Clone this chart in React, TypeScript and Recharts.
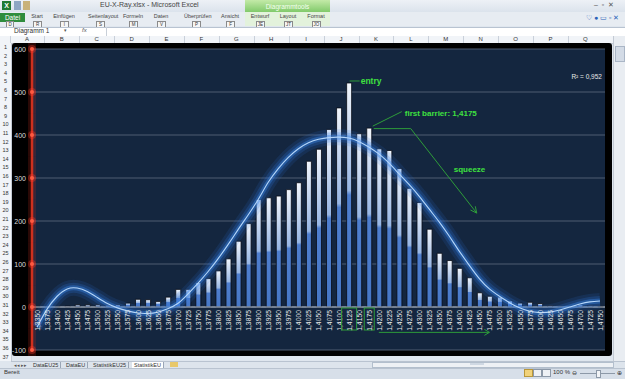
import React from 'react';
import {
  ComposedChart,
  Bar,
  Line,
  XAxis,
  YAxis,
  CartesianGrid,
  ReferenceDot,
  ReferenceLine,
  LabelList,
} from 'recharts';

// ---------------- DATA ----------------
const categories = [
  '1,3350', '1,3375', '1,3400', '1,3425', '1,3450', '1,3475', '1,3500', '1,3525', '1,3550', '1,3575',
  '1,3600', '1,3625', '1,3650', '1,3675', '1,3700', '1,3725', '1,3750', '1,3775', '1,3800', '1,3825',
  '1,3850', '1,3875', '1,3900', '1,3925', '1,3950', '1,3975', '1,4000', '1,4025', '1,4050', '1,4075',
  '1,4100', '1,4125', '1,4150', '1,4175', '1,4200', '1,4225', '1,4250', '1,4275', '1,4300', '1,4325',
  '1,4350', '1,4375', '1,4400', '1,4425', '1,4450', '1,4475', '1,4500', '1,4525', '1,4550', '1,4575',
  '1,4600', '1,4625', '1,4650', '1,4675', '1,4700', '1,4725', '1,4750',
];

const counts = [
  1, 1, 1, 2, 5, 5, 5, 4, 5, 9,
  18, 17, 13, 23, 41, 41, 57, 66, 84, 112,
  153, 194, 250, 254, 258, 273, 289, 339, 367, 413,
  463, 521, 403, 416, 368, 364, 322, 276, 243, 181,
  125, 108, 90, 68, 33, 25, 23, 14, 9, 11,
  8, 3, 1, 1, 5, 3, 1,
];

const trend = [
  -47, -5, 25, 42, 44, 36, 22, 8, -2, -9,
  -14, -15, -12, -4, 8, 30, 55, 82, 112, 145,
  180, 214, 250, 290, 322, 348, 368, 382, 390, 394,
  395, 393, 385, 372, 356, 335, 310, 285, 258, 228,
  198, 165, 130, 97, 66, 42, 25, 10, -2, -10,
  -13, -12, -7, 0, 7, 12, 14,
];

const yTicks = [-100, 0, 100, 200, 300, 400, 500, 600];
const Y_DOMAIN: [number, number] = [-100, 600];

const entryCategory = '1,4125';
const barrierCategory = '1,4175';
const squeezeStart = '1,4200';
const squeezeEnd = '1,4475';
const squeezeLevel = -59;
const rSquaredText = 'R² = 0,952';
const rSquaredLevel = 535;

const data = categories.map((c, i) => ({ cat: c, count: counts[i], trend: trend[i] }));

// ---------------- LAYOUT ----------------
const CHART_W = 600;
const CHART_H = 313;
const MARGIN = { top: 6, right: 7, bottom: 6, left: 0 };
const PLOT_H = CHART_H - MARGIN.top - MARGIN.bottom;
const TICK_STEP_PX = PLOT_H / ((Y_DOMAIN[1] - Y_DOMAIN[0]) / 100);

const GREEN_TEXT = '#3fe03f';
const GREEN_LINE = '#2e9c3a';
const FONT = '"Liberation Sans", Arial, sans-serif';

const YTick = (props: any) => {
  const { x, y, payload } = props;
  const ax = x + 5;
  return (
    <g>
      <rect x={ax - 4} y={y - TICK_STEP_PX / 2} width={8} height={TICK_STEP_PX} fill="#c0281a" opacity={0.22} />
      <circle cx={ax} cy={y} r={4} fill="#ff3a2a" opacity={0.35} />
      <circle cx={ax} cy={y} r={2} fill="#ff5a40" />
      <text x={x - 1} y={y} textAnchor="end" dominantBaseline="central" fontSize={7} fill="#dcdcdc" fontFamily={FONT}>
        {payload.value}
      </text>
    </g>
  );
};

const XLabel = (props: any) => {
  const vb = props.viewBox || props;
  const bx = vb.x ?? props.x;
  const bw = vb.width ?? props.width;
  const by = vb.y ?? props.y;
  const bh = vb.height ?? props.height;
  const cx = bx + bw / 2;
  const base = by + bh;
  const top = base + 3;
  const value = props.value;
  let box = null;
  if (value === entryCategory) {
    box = <rect x={cx - 7.5} y={base + 1} width={15} height={22} fill="none" stroke={GREEN_LINE} strokeWidth={1} />;
  } else if (value === barrierCategory) {
    box = <rect x={cx - 5} y={base + 1} width={10} height={22} fill="none" stroke={GREEN_LINE} strokeWidth={1} />;
  }
  return (
    <g>
      {box}
      <text
        x={cx}
        y={top}
        transform={`rotate(-90 ${cx} ${top})`}
        textAnchor="end"
        dominantBaseline="central"
        fontSize={6.8}
        fill="#e8e8e8"
        fontFamily={FONT}
      >
        {value}
      </text>
    </g>
  );
};

const EntryShape = (p: any) => {
  const { cx, cy } = p;
  return (
    <g>
      <line x1={cx + 1} y1={cy - 2} x2={cx + 11} y2={cy - 2} stroke={GREEN_LINE} strokeWidth={1} />
      <text x={cx + 12} y={cy + 1.5} fontSize={8.5} fontWeight="bold" fill={GREEN_TEXT} fontFamily={FONT}>
        entry
      </text>
    </g>
  );
};

const BarrierShape = (p: any) => {
  const { cx, cy } = p;
  const ex = cx + 108;
  const ey = cy + 85;
  const dx = 66;
  const dy = 84.5;
  const len = Math.sqrt(dx * dx + dy * dy);
  const ux = dx / len;
  const uy = dy / len;
  const ah = 7;
  const ang = 0.45;
  const a1x = ex - ah * (ux * Math.cos(ang) - uy * Math.sin(ang));
  const a1y = ey - ah * (uy * Math.cos(ang) + ux * Math.sin(ang));
  const a2x = ex - ah * (ux * Math.cos(-ang) - uy * Math.sin(-ang));
  const a2y = ey - ah * (uy * Math.cos(-ang) + ux * Math.sin(-ang));
  return (
    <g>
      <line x1={cx + 4} y1={cy - 2} x2={cx + 33} y2={cy - 16.5} stroke={GREEN_LINE} strokeWidth={1} />
      <text x={cx + 36} y={cy - 12.5} fontSize={8} fontWeight="bold" fill={GREEN_TEXT} fontFamily={FONT}>
        first barrier: 1,4175
      </text>
      <polyline
        points={`${cx + 5},${cy + 0.5} ${cx + 42},${cy + 0.5} ${ex},${ey}`}
        fill="none"
        stroke={GREEN_LINE}
        strokeWidth={1}
      />
      <polyline points={`${a1x},${a1y} ${ex},${ey} ${a2x},${a2y}`} fill="none" stroke={GREEN_LINE} strokeWidth={1} />
      <text x={cx + 85} y={cy + 44} fontSize={8} fontWeight="bold" fill={GREEN_TEXT} fontFamily={FONT}>
        squeeze
      </text>
    </g>
  );
};

const ArrowHead = (p: any) => {
  const { cx, cy } = p;
  return (
    <polyline
      points={`${cx - 5},${cy - 3} ${cx},${cy} ${cx - 5},${cy + 3}`}
      fill="none"
      stroke={GREEN_LINE}
      strokeWidth={1}
    />
  );
};

const RSquared = (p: any) => {
  const { cx, cy } = p;
  return (
    <text x={cx + 2} y={cy} textAnchor="end" dominantBaseline="central" fontSize={6.5} fill="#e8e8e8" fontFamily={FONT}>
      {rSquaredText}
    </text>
  );
};

// ---------------- EXCEL CHROME ----------------
const ribbonTabs: [string, number][] = [
  ['Start', 37], ['Einfügen', 64], ['Seitenlayout', 100], ['Formeln', 133], ['Daten', 161],
  ['Überprüfen', 196], ['Ansicht', 230], ['Entwurf', 260], ['Layout', 288], ['Format', 316],
];
const keyTips = ['R', 'I', 'S', 'M', 'V', 'P', 'F', 'JE', 'JT', 'JO'];
const colLetters = ['A', 'B', 'C', 'D', 'E', 'F', 'G', 'H', 'I', 'J', 'K', 'L', 'M', 'N', 'O', 'P', 'Q'];
const COL_START = 9.5;
const COL_W = 34.9;
const ROW_H = 8.6;
const rowNumbers = Array.from({ length: 37 }, (_, i) => i + 1);
const sheetTabs: [string, number, boolean][] = [
  ['DataEU25', 33, false], ['DataEU', 66, false], ['StatistikEU25', 93, false], ['StatistikEU', 134, true],
];

const abs = (s: React.CSSProperties): React.CSSProperties => ({ position: 'absolute', ...s });

export default function App() {
  return (
    <div
      style={abs({
        left: 0,
        top: 0,
        width: 625,
        height: 379,
        overflow: 'hidden',
        background: '#dfe6ee',
        fontFamily: FONT,
        color: '#333',
      })}
    >
      {/* title bar */}
      <div style={abs({ left: 0, top: 0, width: 625, height: 12, background: 'linear-gradient(#edf1f6,#dbe3ec)' })} />
      <div style={abs({ left: 2, top: 1, width: 9, height: 9, background: '#1f7a34', color: '#fff', fontSize: 7, lineHeight: '9px', textAlign: 'center', fontWeight: 'bold' })}>X</div>
      <div style={abs({ left: 14, top: 1, width: 7, height: 9, background: '#8ea6c4' })} />
      <div style={abs({ left: 23, top: 1, width: 7, height: 9, background: '#c9b27a' })} />
      <div style={abs({ left: 100, top: 1, fontSize: 7, whiteSpace: 'nowrap', color: '#444' })}>EU-X-Ray.xlsx - Microsoft Excel</div>
      <div style={abs({ left: 245, top: 0, width: 85, height: 13, background: 'linear-gradient(#c3eaa8,#7cc766)', color: '#f4fff0', fontSize: 6.5, lineHeight: '13px', textAlign: 'center' })}>Diagrammtools</div>
      <div style={abs({ left: 594, top: 1, fontSize: 7, color: '#555', whiteSpace: 'nowrap' })}>–&nbsp;&nbsp;▫&nbsp;&nbsp;✕</div>

      {/* ribbon tab row */}
      <div style={abs({ left: 0, top: 12, width: 625, height: 14, background: '#e7ecf2' })} />
      <div style={abs({ left: 245, top: 12, width: 85, height: 14, background: '#e3f2dc' })} />
      <div style={abs({ left: 0, top: 13, width: 25, height: 9, background: '#2f8d3d', color: '#fff', fontSize: 6.5, lineHeight: '9px', textAlign: 'center' })}>Datei</div>
      {ribbonTabs.map(([t, x]) => (
        <div key={t} style={abs({ left: x - 12, top: 13, width: 24, fontSize: 5.5, textAlign: 'center', whiteSpace: 'nowrap', color: '#444' })}>{t}</div>
      ))}
      <div style={abs({ left: 6, top: 21, width: 6, height: 5, border: '1px solid #8a8a8a', background: '#f6f6f6', fontSize: 4.5, lineHeight: '5px', textAlign: 'center' })}>D</div>
      {ribbonTabs.map(([t, x], i) => (
        <div key={'k' + t} style={abs({ left: x - 4, top: 21, width: 7, height: 5, border: '1px solid #8a8a8a', background: '#f6f6f6', fontSize: 4.5, lineHeight: '5px', textAlign: 'center', overflow: 'hidden' })}>{keyTips[i]}</div>
      ))}
      <div style={abs({ left: 586, top: 14, fontSize: 7, color: '#2a62b8', whiteSpace: 'nowrap' })}>♡ ● ▭ ▫ ✕</div>

      {/* formula bar */}
      <div style={abs({ left: 0, top: 27, width: 625, height: 8, background: '#fff', borderTop: '1px solid #b8c3d1', borderBottom: '1px solid #b8c3d1' })} />
      <div style={abs({ left: 14, top: 27, fontSize: 6.5, whiteSpace: 'nowrap' })}>Diagramm 1</div>
      <div style={abs({ left: 64, top: 27, fontSize: 5, color: '#555' })}>▾</div>
      <div style={abs({ left: 82, top: 27, fontSize: 6, fontStyle: 'italic', color: '#555' })}>fx</div>
      <div style={abs({ left: 106, top: 27, width: 1, height: 9, background: '#c8cfd8' })} />

      {/* column headers */}
      <div style={abs({ left: 0, top: 36, width: 625, height: 7, background: '#f1f4f8', borderBottom: '1px solid #c3cad4' })} />
      {colLetters.map((c, i) => (
        <React.Fragment key={c}>
          <div style={abs({ left: COL_START + i * COL_W, top: 36, width: COL_W, fontSize: 6, lineHeight: '7px', textAlign: 'center', color: '#333' })}>{c}</div>
          <div style={abs({ left: COL_START + i * COL_W, top: 36, width: 1, height: 7, background: '#c9d0da' })} />
        </React.Fragment>
      ))}

      {/* row headers */}
      <div style={abs({ left: 0, top: 43, width: 11, height: 318, background: '#f1f4f8', borderRight: '1px solid #c3cad4', overflow: 'hidden' })}>
        {rowNumbers.map((r) => (
          <div key={r} style={abs({ left: 0, top: (r - 1) * ROW_H, width: 11, height: ROW_H, fontSize: 5.5, lineHeight: `${ROW_H}px`, textAlign: 'center', color: '#333' })}>{r}</div>
        ))}
      </div>

      {/* right scrollbar */}
      <div style={abs({ left: 613, top: 36, width: 12, height: 325, background: '#e9edf2', borderLeft: '1px solid #c3cad4' })} />
      <div style={abs({ left: 615, top: 46, width: 8, height: 14, background: '#d3dbe6', border: '1px solid #aab6c6' })} />

      {/* chart */}
      <div style={abs({ left: 12, top: 43, width: CHART_W, height: CHART_H, background: '#000', borderRadius: 3 })}>
        <ComposedChart width={CHART_W} height={CHART_H} data={data} margin={MARGIN}>
          <defs>
            <linearGradient id="barFill" x1="0" y1="0" x2="0" y2="1">
              <stop offset="0%" stopColor="#f2f6fc" />
              <stop offset="48%" stopColor="#97b6e4" />
              <stop offset="50%" stopColor="#4f7fcf" />
              <stop offset="100%" stopColor="#4677c6" />
            </linearGradient>
          </defs>
          <CartesianGrid vertical={false} stroke="#4e5d73" fill="#14263f" strokeWidth={1} />
          <XAxis dataKey="cat" hide />
          <YAxis
            width={20}
            domain={Y_DOMAIN}
            ticks={yTicks}
            interval={0}
            allowDataOverflow
            tickLine={false}
            tickSize={0}
            tickMargin={5}
            axisLine={{ stroke: '#d2321f', strokeWidth: 2.5 }}
            tick={<YTick />}
          />
          <ReferenceLine y={0} stroke="#b9c1cc" strokeWidth={1} ifOverflow="visible" />
          <Bar dataKey="count" barSize={5} fill="url(#barFill)" stroke="#060a14" strokeWidth={0.8} isAnimationActive={false}>
            <LabelList dataKey="cat" content={<XLabel />} />
          </Bar>
          <Line dataKey="trend" type="natural" stroke="#2a6fd6" strokeOpacity={0.14} strokeWidth={16} dot={false} activeDot={false} isAnimationActive={false} />
          <Line dataKey="trend" type="natural" stroke="#2f78e0" strokeOpacity={0.22} strokeWidth={10} dot={false} activeDot={false} isAnimationActive={false} />
          <Line dataKey="trend" type="natural" stroke="#3a86ea" strokeOpacity={0.38} strokeWidth={5} dot={false} activeDot={false} isAnimationActive={false} />
          <Line dataKey="trend" type="natural" stroke="#b4d6fb" strokeWidth={1.1} dot={false} activeDot={false} isAnimationActive={false} />
          <ReferenceDot x={entryCategory} y={counts[categories.indexOf(entryCategory)]} ifOverflow="visible" shape={<EntryShape />} />
          <ReferenceDot x={barrierCategory} y={counts[categories.indexOf(barrierCategory)]} ifOverflow="visible" shape={<BarrierShape />} />
          <ReferenceLine
            segment={[{ x: squeezeStart, y: squeezeLevel }, { x: squeezeEnd, y: squeezeLevel }]}
            stroke={GREEN_LINE}
            strokeWidth={1}
            ifOverflow="visible"
          />
          <ReferenceDot x={squeezeEnd} y={squeezeLevel} ifOverflow="visible" shape={<ArrowHead />} />
          <ReferenceDot x={categories[categories.length - 1]} y={rSquaredLevel} ifOverflow="visible" shape={<RSquared />} />
        </ComposedChart>
      </div>

      {/* sheet tabs row */}
      <div style={abs({ left: 11, top: 361, width: 614, height: 7, background: '#dde4ec', borderTop: '1px solid #b9c3d0' })} />
      <div style={abs({ left: 14, top: 362, fontSize: 5, lineHeight: '6px', color: '#555', whiteSpace: 'nowrap' })}>◂◂ ▸▸</div>
      {sheetTabs.map(([t, x, active]) => (
        <div key={t} style={abs({ left: x - 2, top: 362, height: 6, padding: '0 2px', fontSize: 5.5, lineHeight: '6px', whiteSpace: 'nowrap', background: active ? '#ffffff' : 'transparent', borderRight: '1px solid #9aa6b6', color: '#333' })}>{t}</div>
      ))}
      <div style={abs({ left: 170, top: 362, width: 8, height: 5, background: '#e8c86a' })} />
      <div style={abs({ left: 372, top: 362, width: 240, height: 4, background: '#eef1f5', border: '1px solid #b3bfcd' })} />
      <div style={abs({ left: 470, top: 363, width: 14, height: 2, background: '#cfd8e3' })} />

      {/* status bar */}
      <div style={abs({ left: 0, top: 368, width: 625, height: 11, background: '#d7dfe9', borderTop: '1px solid #b9c3d0' })} />
      <div style={abs({ left: 4, top: 369, fontSize: 6, color: '#333' })}>Bereit</div>
      <div style={abs({ left: 524, top: 369, width: 7, height: 6, background: '#f1d27a', border: '1px solid #b9973a' })} />
      <div style={abs({ left: 533, top: 369, width: 7, height: 6, background: '#eef1f5', border: '1px solid #8d99a8' })} />
      <div style={abs({ left: 542, top: 369, width: 7, height: 6, background: '#eef1f5', border: '1px solid #8d99a8' })} />
      <div style={abs({ left: 553, top: 369, fontSize: 6, color: '#333', whiteSpace: 'nowrap' })}>100 %</div>
      <div style={abs({ left: 572, top: 369, fontSize: 6, color: '#333' })}>⊖</div>
      <div style={abs({ left: 580, top: 373, width: 35, height: 1, background: '#8d99a8' })} />
      <div style={abs({ left: 596, top: 370, width: 3, height: 6, background: '#f2f4f7', border: '1px solid #8d99a8' })} />
      <div style={abs({ left: 617, top: 369, fontSize: 6, color: '#333' })}>⊕</div>
    </div>
  );
}
